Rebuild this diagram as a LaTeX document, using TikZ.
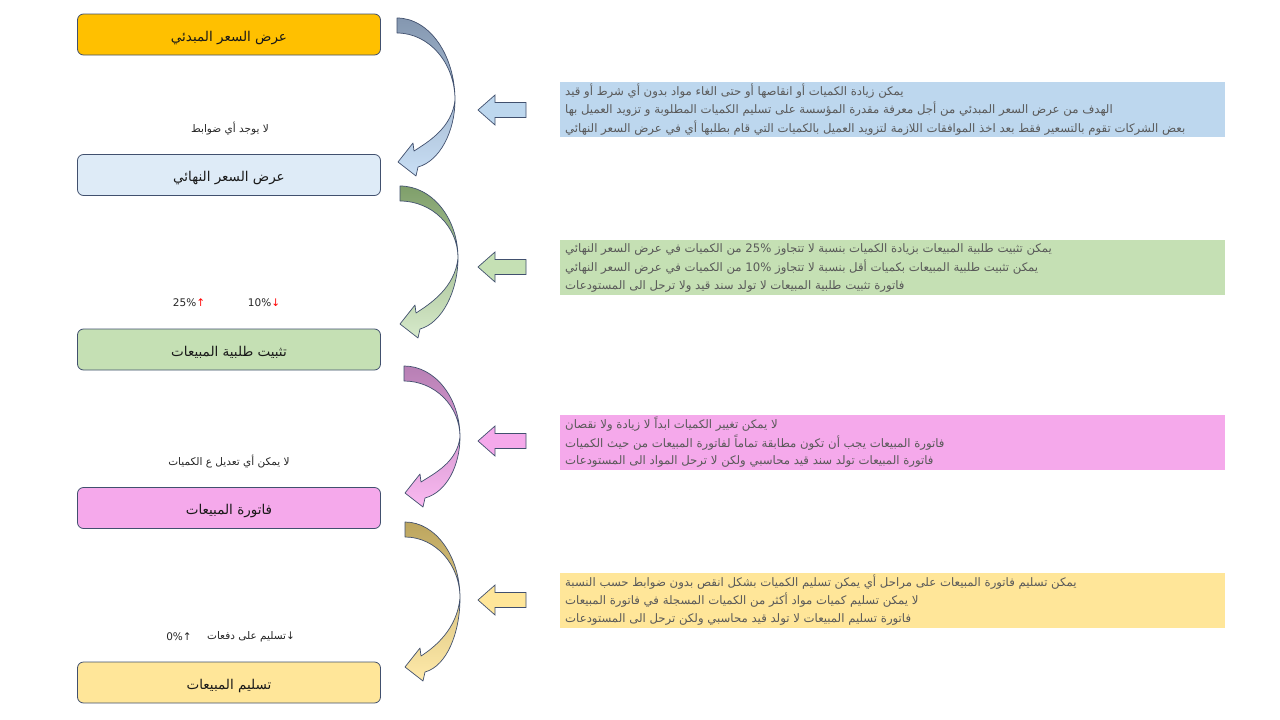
\documentclass[tikz,border=0pt]{standalone}
\usepackage{fontspec}
\setmainfont{DejaVu Sans}
\newfontfamily\ar[Script=Arabic]{DejaVu Sans}
\TeXXeTstate=1
\definecolor{edgec}{HTML}{41506E}
\definecolor{txtg}{HTML}{595959}
\definecolor{cOrange}{HTML}{FFC000}
\definecolor{cBlueL}{HTML}{DEEBF7}
\definecolor{cBlue}{HTML}{BDD7EE}
\definecolor{cGreen}{HTML}{C5E0B4}
\definecolor{cPink}{HTML}{F5A9EB}
\definecolor{cYel}{HTML}{FFE699}
\definecolor{aBlueT}{HTML}{8497B0}
\definecolor{aBlueB}{HTML}{C9DFF5}
\definecolor{aGreenT}{HTML}{7F9F6A}
\definecolor{aGreenB}{HTML}{D7EACB}
\definecolor{aPinkT}{HTML}{B77FB4}
\definecolor{aPinkB}{HTML}{FAB9F1}
\definecolor{aYelT}{HTML}{BCA55E}
\definecolor{aYelB}{HTML}{FFEAAA}
\tikzset{
  stagebox/.style={draw=edgec, line width=0.8pt, rounded corners=6pt,
     minimum width=303pt, minimum height=41pt, inner sep=0pt,
     text height=13pt, text depth=0pt,
     font=\ar\fontsize{13.5}{15}\selectfont, text=black!90},
  noteline/.style={anchor=west, inner sep=0pt, font=\ar\fontsize{11.7}{14}\selectfont, text=txtg},
  sidelabel/.style={inner sep=0pt, font=\ar\fontsize{10.5}{13}\selectfont, text=black!85},
  latlabel/.style={inner sep=0pt, font=\fontsize{10.5}{13}\selectfont, text=black!85},
  blockarr/.style={draw=edgec, line width=0.7pt, line join=miter}
}
% #1 tail x, #2 tail top y, #3 max x, #4 y at max x, #5 tip x, #6 tip y, #7 top colour, #8 bottom colour
\newcommand\crescarrow[8]{%
\path[draw=edgec, line width=0.7pt, top color=#7, bottom color=#8, line join=round]
 (#1,#2) .. controls ({#1+0.552*(#3-#1)},#2) and (#3,{#4-0.552*(#4-#2)}) .. (#3,#4)
 .. controls (#3,{#4-0.552*(#4-#2-15)}) and ({#1+0.552*(#3-#1)},{#2+15}) .. (#1,{#2+15}) -- cycle
 (#3,#4) .. controls (#3,{#4+0.5*(#6-#4)}) and ({#5+42},{#6-1}) .. ({#5+20},{#6+5})
 -- ({#5+18},{#6+14}) -- (#5,#6) -- ({#5+15},{#6-19}) -- ({#5+16},{#6-11})
 .. controls ({#5+30},{#6-20}) and ({#3-3},{#4+0.45*(#6-#4)}) .. (#3,#4) -- cycle;
}
\newcommand\leftblock[2]{%
\path[blockarr, fill=#2] (478,#1) -- (495,{#1-15}) -- (495,{#1-7.5}) -- (526,{#1-7.5})
  -- (526,{#1+7.5}) -- (495,{#1+7.5}) -- (495,{#1+15}) -- cycle;
}
\begin{document}
\begin{tikzpicture}[x=1pt,y=-1pt]
\useasboundingbox[fill=white] (0,0) rectangle (1280,720);

% stage boxes
\node[stagebox, fill=cOrange] (b1) at (229,34.5) {\beginR عرض السعر المبدئي\endR};
\node[stagebox, fill=cBlueL] (b2) at (229,175) {\beginR عرض السعر النهائي\endR};
\node[stagebox, fill=cGreen] (b3) at (229,349.5) {\beginR تثبيت طلبية المبيعات\endR};
\node[stagebox, fill=cPink] (b4) at (229,508) {\beginR فاتورة المبيعات\endR};
\node[stagebox, fill=cYel] (b5) at (229,682.5) {\beginR تسليم المبيعات\endR};

% curved arrows
\crescarrow{397}{18}{455}{100}{398}{162}{aBlueT}{aBlueB}
\crescarrow{400}{186}{458}{258}{400}{324}{aGreenT}{aGreenB}
\crescarrow{404}{366}{460}{437}{405}{493}{aPinkT}{aPinkB}
\crescarrow{405}{522}{460}{598}{405}{667}{aYelT}{aYelB}

% side labels
\node[sidelabel] (l1) at (230,129) {\beginR لا يوجد أي ضوابط\endR};
\node[latlabel] (l2a) at (189,303) {25\%{\color{red}↑}};
\node[latlabel] (l2b) at (264,303) {10\%{\color{red}↓}};
\node[sidelabel] (l3) at (229,462) {\beginR لا يمكن أي تعديل ع الكميات\endR};
\node[sidelabel] (l4a) at (251,637) {\beginR ↓تسليم على دفعات\endR};
\node[latlabel] (l4b) at (179,637) {0\%↑};

% block arrows
\leftblock{110}{cBlue}
\leftblock{267}{cGreen}
\leftblock{441}{cPink}
\leftblock{600}{cYel}

% note boxes
\fill[cBlue] (560,82) rectangle (1225,137);
\fill[cGreen] (560,240) rectangle (1225,295);
\fill[cPink] (560,415) rectangle (1225,470);
\fill[cYel] (560,573) rectangle (1225,628);

\node[noteline] (t11) at (565,91) {\beginR يمكن زيادة الكميات أو انقاصها أو حتى الغاء مواد بدون أي شرط أو قيد\endR};
\node[noteline] (t12) at (565,109.5) {\beginR الهدف من عرض السعر المبدئي من أجل معرفة مقدرة المؤسسة على تسليم الكميات المطلوبة و تزويد العميل بها\endR};
\node[noteline] (t13) at (565,128) {\beginR بعض الشركات تقوم بالتسعير فقط بعد اخذ الموافقات اللازمة لتزويد العميل بالكميات التي قام بطلبها أي في عرض السعر النهائي\endR};

\node[noteline] (t21) at (565,249) {\beginR يمكن تثبيت طلبية المبيعات بزيادة الكميات بنسبة لا تتجاوز \beginL 25\%\endL{} من الكميات في عرض السعر النهائي\endR};
\node[noteline] (t22) at (565,267.5) {\beginR يمكن تثبيت طلبية المبيعات بكميات أقل بنسبة لا تتجاوز \beginL 10\%\endL{} من الكميات في عرض السعر النهائي\endR};
\node[noteline] (t23) at (565,286) {\beginR فاتورة تثبيت طلبية المبيعات لا تولد سند قيد ولا ترحل الى المستودعات\endR};

\node[noteline] (t31) at (565,424) {\beginR لا يمكن تغيير الكميات ابداً لا زيادة ولا نقصان\endR};
\node[noteline] (t32) at (565,442.5) {\beginR فاتورة المبيعات يجب أن تكون مطابقة تماماً لفاتورة المبيعات من حيث الكميات\endR};
\node[noteline] (t33) at (565,461) {\beginR فاتورة المبيعات تولد سند قيد محاسبي ولكن لا ترحل المواد الى المستودعات\endR};

\node[noteline] (t41) at (565,582) {\beginR يمكن تسليم فاتورة المبيعات على مراحل أي يمكن تسليم الكميات بشكل انقص بدون ضوابط حسب النسبة\endR};
\node[noteline] (t42) at (565,600.5) {\beginR لا يمكن تسليم كميات مواد أكثر من الكميات المسجلة في فاتورة المبيعات\endR};
\node[noteline] (t43) at (565,619) {\beginR فاتورة تسليم المبيعات لا تولد قيد محاسبي ولكن ترحل الى المستودعات\endR};
\end{tikzpicture}
\end{document}
